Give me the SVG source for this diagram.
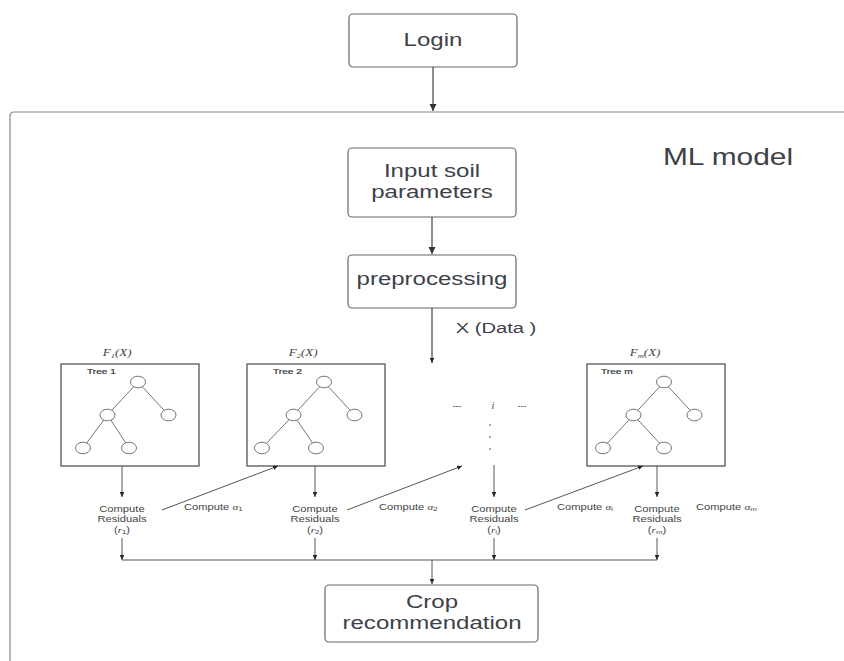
<svg xmlns="http://www.w3.org/2000/svg" width="844" height="661" viewBox="0 0 844 661">
<defs>
<marker id="ah" markerUnits="userSpaceOnUse" markerWidth="8" markerHeight="8" refX="7" refY="3.5" orient="auto"><path d="M0,0 L7,3.5 L0,7 z" fill="#333"/></marker>
<marker id="as" markerUnits="userSpaceOnUse" markerWidth="6" markerHeight="6" refX="5" refY="2.25" orient="auto"><path d="M0,0 L5,2.25 L0,4.5 z" fill="#222"/></marker>
<g id="treeTop">
<line x1="77" y1="18" x2="46.5" y2="51"/>
<line x1="77" y1="18" x2="107.5" y2="51"/>
<ellipse cx="77" cy="18" rx="7.5" ry="5.8"/>
<ellipse cx="46.5" cy="51" rx="7.5" ry="5.8"/>
<ellipse cx="107.5" cy="51" rx="7.5" ry="5.8"/>
</g>
</defs>
<style>
.box{fill:#fff;stroke:#666;stroke-width:1.2}
.tbox{fill:#fff;stroke:#555;stroke-width:1.3}
.tree{fill:#fff;stroke:#777;stroke-width:1}
.big{font-family:"Liberation Sans",Arial,sans-serif;font-size:18.5px;fill:#3d4148;text-anchor:middle}
.s{transform-box:fill-box;transform-origin:center;transform:scaleX(1.3)}
.sl{transform-box:fill-box;transform-origin:left center;transform:scaleX(1.3)}
.sm{font-family:"Liberation Sans",Arial,sans-serif;font-size:8.6px;fill:#444}
.tl{font-family:"Liberation Sans",Arial,sans-serif;font-size:7.8px;fill:#333;stroke:#333;stroke-width:0.2}
.mid{text-anchor:middle}
.math{font-family:"Liberation Serif","Times New Roman",serif;font-style:italic}
.conn{stroke:#333;stroke-width:1.1;fill:none}
.thin{stroke:#444;stroke-width:0.9;fill:none}
</style>

<path d="M844 112 H14 Q10 112 10 116 V661" fill="none" stroke="#8a8a8a" stroke-width="1.2"/>
<text class="big s" x="728" y="165" style="font-size:23px">ML model</text>

<g id="login"><rect class="box" x="349" y="14" width="168" height="53" rx="4"/><text class="big s" x="433" y="46">Login</text></g>
<g id="input"><rect class="box" x="348" y="148" width="168" height="69" rx="4"/><text class="big s" x="432" y="177">Input soil</text><text class="big s" x="432" y="198">parameters</text></g>
<g id="preprocessing"><rect class="box" x="348" y="255" width="168" height="53" rx="4"/><text class="big s" x="432" y="285">preprocessing</text></g>
<g id="crop"><rect class="box" x="325" y="585" width="213" height="57" rx="4"/><text class="big s" x="432" y="608">Crop</text><text class="big s" x="432" y="629">recommendation</text></g>

<g id="tree1">
<text class="sm math s mid" x="117" y="356" style="font-size:10px">F<tspan font-size="6.5" dy="2">1</tspan><tspan dy="-2">(X)</tspan></text>
<rect class="tbox" x="61" y="364" width="138" height="102"/>
<text class="tl sl" x="87" y="374">Tree 1</text>
<g class="tree" transform="translate(61,364)">
<line x1="46.5" y1="51" x2="22" y2="84"/><line x1="46.5" y1="51" x2="68" y2="84"/>
<use href="#treeTop"/>
<ellipse cx="22" cy="84" rx="7.5" ry="5.8"/><ellipse cx="68" cy="84" rx="7.5" ry="5.8"/>
</g>
</g>
<g id="tree2">
<text class="sm math s mid" x="303" y="356" style="font-size:10px">F<tspan font-size="6.5" dy="2">2</tspan><tspan dy="-2">(X)</tspan></text>
<rect class="tbox" x="247" y="364" width="138" height="102"/>
<text class="tl sl" x="273" y="374">Tree 2</text>
<g class="tree" transform="translate(247,364)">
<line x1="46.5" y1="51" x2="15" y2="84"/><line x1="46.5" y1="51" x2="69" y2="84"/>
<use href="#treeTop"/>
<ellipse cx="15" cy="84" rx="7.5" ry="5.8"/><ellipse cx="69" cy="84" rx="7.5" ry="5.8"/>
</g>
</g>
<g id="treem">
<text class="sm math s mid" x="645" y="356" style="font-size:10px">F<tspan font-size="6.5" dy="2">m</tspan><tspan dy="-2">(X)</tspan></text>
<rect class="tbox" x="587" y="364" width="138" height="102"/>
<text class="tl sl" x="601" y="374">Tree m</text>
<g class="tree" transform="translate(587,364)">
<line x1="46.5" y1="51" x2="16" y2="84"/><line x1="46.5" y1="51" x2="77" y2="84"/>
<use href="#treeTop"/>
<ellipse cx="16" cy="84" rx="7.5" ry="5.8"/><ellipse cx="77" cy="84" rx="7.5" ry="5.8"/>
</g>
</g>

<g id="ellipsis">
<text class="sm mid" x="457" y="409">---</text>
<text class="sm math mid" x="493" y="409" style="font-size:10px">i</text>
<text class="sm mid" x="522" y="409">---</text>
<line x1="489" y1="425" x2="491" y2="425" stroke="#555" stroke-width="1"/>
<line x1="489" y1="437" x2="491" y2="437" stroke="#555" stroke-width="1"/>
<line x1="489" y1="449" x2="491" y2="449" stroke="#555" stroke-width="1"/>
</g>

<g id="res1"><text class="sm s mid" x="122" y="512">Compute</text><text class="sm s mid" x="122" y="522">Residuals</text><text class="sm s mid" x="122" y="533">(<tspan class="math">r</tspan><tspan font-size="6" dy="1.5">1</tspan><tspan dy="-1.5">)</tspan></text></g>
<g id="res2"><text class="sm s mid" x="315" y="512">Compute</text><text class="sm s mid" x="315" y="522">Residuals</text><text class="sm s mid" x="315" y="533">(<tspan class="math">r</tspan><tspan font-size="6" dy="1.5">2</tspan><tspan dy="-1.5">)</tspan></text></g>
<g id="resi"><text class="sm s mid" x="494" y="512">Compute</text><text class="sm s mid" x="494" y="522">Residuals</text><text class="sm s mid" x="494" y="533">(<tspan class="math">r</tspan><tspan font-size="6" dy="1.5">i</tspan><tspan dy="-1.5">)</tspan></text></g>
<g id="resm"><text class="sm s mid" x="657" y="512">Compute</text><text class="sm s mid" x="657" y="522">Residuals</text><text class="sm s mid" x="657" y="533">(<tspan class="math">r</tspan><tspan font-size="6" dy="1.5">m</tspan><tspan dy="-1.5">)</tspan></text></g>

<g id="alpha-labels">
<text class="sm sl" x="184" y="510">Compute <tspan class="math">α</tspan><tspan font-size="6" dy="1.5">1</tspan></text>
<text class="sm sl" x="379" y="510">Compute <tspan class="math">α</tspan><tspan font-size="6" dy="1.5">2</tspan></text>
<text class="sm sl" x="557" y="510">Compute <tspan class="math">α</tspan><tspan font-size="6" dy="1.5">i</tspan></text>
<text class="sm sl" x="696" y="510">Compute <tspan class="math">α</tspan><tspan font-size="6" dy="1.5">m</tspan></text>
</g>

<g id="connectors">
<line class="conn" x1="433" y1="67" x2="433" y2="111" marker-end="url(#ah)"/>
<line class="conn" x1="432" y1="217" x2="432" y2="254" marker-end="url(#ah)"/>
<line class="conn" x1="432" y1="308" x2="432" y2="363" marker-end="url(#as)" stroke-width="0.9"/>
<text class="big s" x="496" y="333" style="font-size:15.5px">X (Data )</text>
<line class="thin" x1="122" y1="466" x2="122" y2="497" marker-end="url(#as)"/>
<line class="thin" x1="315" y1="466" x2="315" y2="497" marker-end="url(#as)"/>
<line class="thin" x1="494" y1="465" x2="494" y2="497" marker-end="url(#as)"/>
<line class="thin" x1="657" y1="466" x2="657" y2="497" marker-end="url(#as)"/>
<line class="thin" x1="162" y1="510" x2="278" y2="466" marker-end="url(#as)"/>
<line class="thin" x1="347" y1="510" x2="462" y2="466" marker-end="url(#as)"/>
<line class="thin" x1="525" y1="510" x2="643" y2="466" marker-end="url(#as)"/>
<line class="thin" x1="122" y1="538" x2="122" y2="560" marker-end="url(#as)"/>
<line class="thin" x1="315" y1="538" x2="315" y2="560" marker-end="url(#as)"/>
<line class="thin" x1="494" y1="538" x2="494" y2="560" marker-end="url(#as)"/>
<line class="thin" x1="657" y1="538" x2="657" y2="560" marker-end="url(#as)"/>
<line class="thin" x1="122" y1="560" x2="657" y2="560"/>
<line class="thin" x1="432" y1="560" x2="432" y2="584" marker-end="url(#as)"/>
</g>
</svg>
